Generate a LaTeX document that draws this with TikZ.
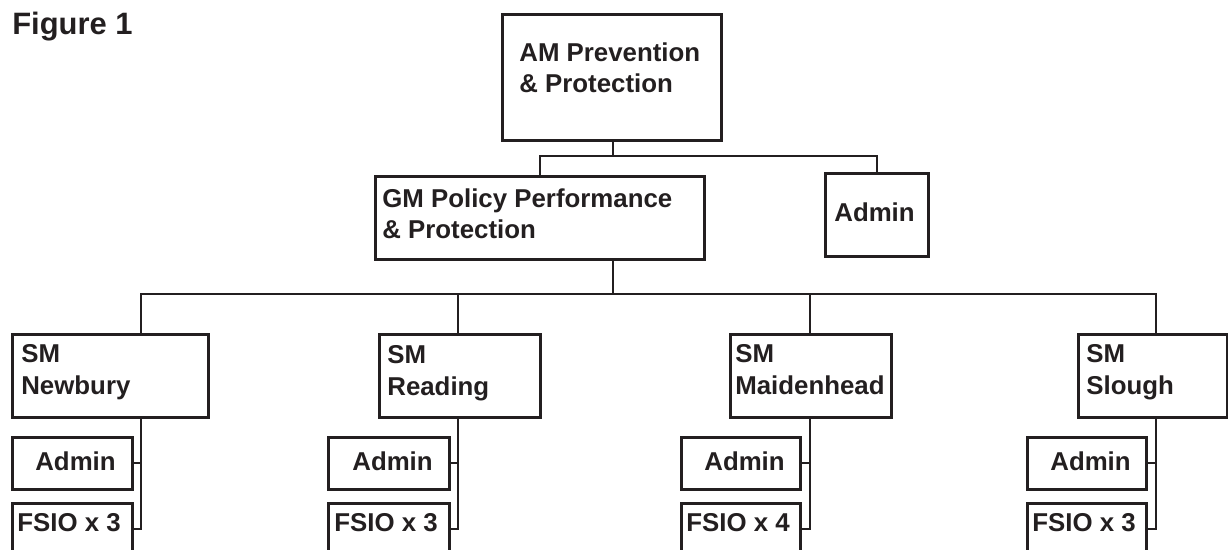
\documentclass[tikz,border=0pt]{standalone}
\usepackage{fontspec}
\setmainfont{Liberation Sans}
\newlength\pix
\setlength\pix{0.02cm}
\definecolor{ink}{HTML}{231F20}
\newcommand\boxfont{\fontsize{14.7}{18.1}\selectfont\bfseries}
\tikzset{
  box/.style 2 args={draw=ink, line width=1.5pt, anchor=north west, inner sep=0pt,
    minimum width=#1\pix, minimum height=#2\pix},
  lbl/.style={font=\boxfont, text=ink, align=left, anchor=north west, inner sep=0pt},
  txt/.style n args={3}{label={[lbl, xshift=#1\pix, yshift=-#2\pix]north west:#3}},
  link/.style={draw=ink, line width=1.2pt}
}
\begin{document}
\begin{tikzpicture}[x=0.02cm, y=-0.02cm]
        \useasboundingbox (0,0) rectangle (1228,550);
        \clip (0,0) rectangle (1228,550);
        % Titolo
        \node[font=\fontsize{17.6}{20}\selectfont\bfseries, text=ink, anchor=base west, inner sep=0pt] (title) at (12,35) {Figure 1};
        % Vertice
        \node[box={219}{126}, txt={18}{29}{AM Prevention\\\& Protection}] (am) at (501,13) {};
        \node[box={329}{83}, txt={8}{13}{GM Policy Performance\\\& Protection}] (gm) at (374,175) {};
        \node[box={103}{83}, txt={10}{30}{Admin}] (adm) at (824,172) {};
        % Stazioni
        \node[box={196}{83}, txt={10}{11}{SM\\Newbury}] (nb) at (11,333) {};
        \node[box={161}{83}, txt={9}{12}{SM\\Reading}] (rd) at (378,333) {};
        \node[box={161}{83}, txt={6}{11}{SM\\Maidenhead}] (md) at (729,333) {};
        \node[box={149}{83}, txt={9}{11}{SM\\Slough}] (sl) at (1077,333) {};
        % Personale
        \node[box={120}{52}, txt={24}{15}{Admin}] (nba) at (11,436) {};
        \node[box={120}{52}, txt={6}{11}{FSIO x 3}] (nbf) at (11,502) {};
        \node[box={121}{52}, txt={25}{15}{Admin}] (rda) at (327,436) {};
        \node[box={121}{52}, txt={7}{11}{FSIO x 3}] (rdf) at (327,502) {};
        \node[box={119}{52}, txt={24}{15}{Admin}] (mda) at (680,436) {};
        \node[box={119}{52}, txt={6}{11}{FSIO x 4}] (mdf) at (680,502) {};
        \node[box={119}{52}, txt={24}{15}{Admin}] (sla) at (1026,436) {};
        \node[box={119}{52}, txt={6}{11}{FSIO x 3}] (slf) at (1026,502) {};
        % Collegamenti in alto
        \coordinate (top) at (613,156);
        \draw[link] (top |- am.south) -- (top);
        \draw[link] (gm.north) |- (top) -| (adm.north);
        % Linea delle stazioni
        \coordinate (nbx) at (141,294);
        \coordinate (rdx) at (458,294);
        \coordinate (mdx) at (810,294);
        \coordinate (slx) at (1156,294);
        \draw[link] (gm.south -| top) -- (top |- nbx);
        \draw[link] (nbx |- nb.north) -- (nbx) -- (slx) -- (slx |- sl.north);
        \draw[link] (rdx) -- (rdx |- rd.north);
        \draw[link] (mdx) -- (mdx |- md.north);
        % Rami sotto le stazioni
        \draw[link] (nbx |- nb.south) |- (nbf.east);
        \draw[link] (nba.east) -- (nba.east -| nbx);
        \draw[link] (rdx |- rd.south) |- (rdf.east);
        \draw[link] (rda.east) -- (rda.east -| rdx);
        \draw[link] (mdx |- md.south) |- (mdf.east);
        \draw[link] (mda.east) -- (mda.east -| mdx);
        \draw[link] (slx |- sl.south) |- (slf.east);
        \draw[link] (sla.east) -- (sla.east -| slx);
\end{tikzpicture}
\end{document}
